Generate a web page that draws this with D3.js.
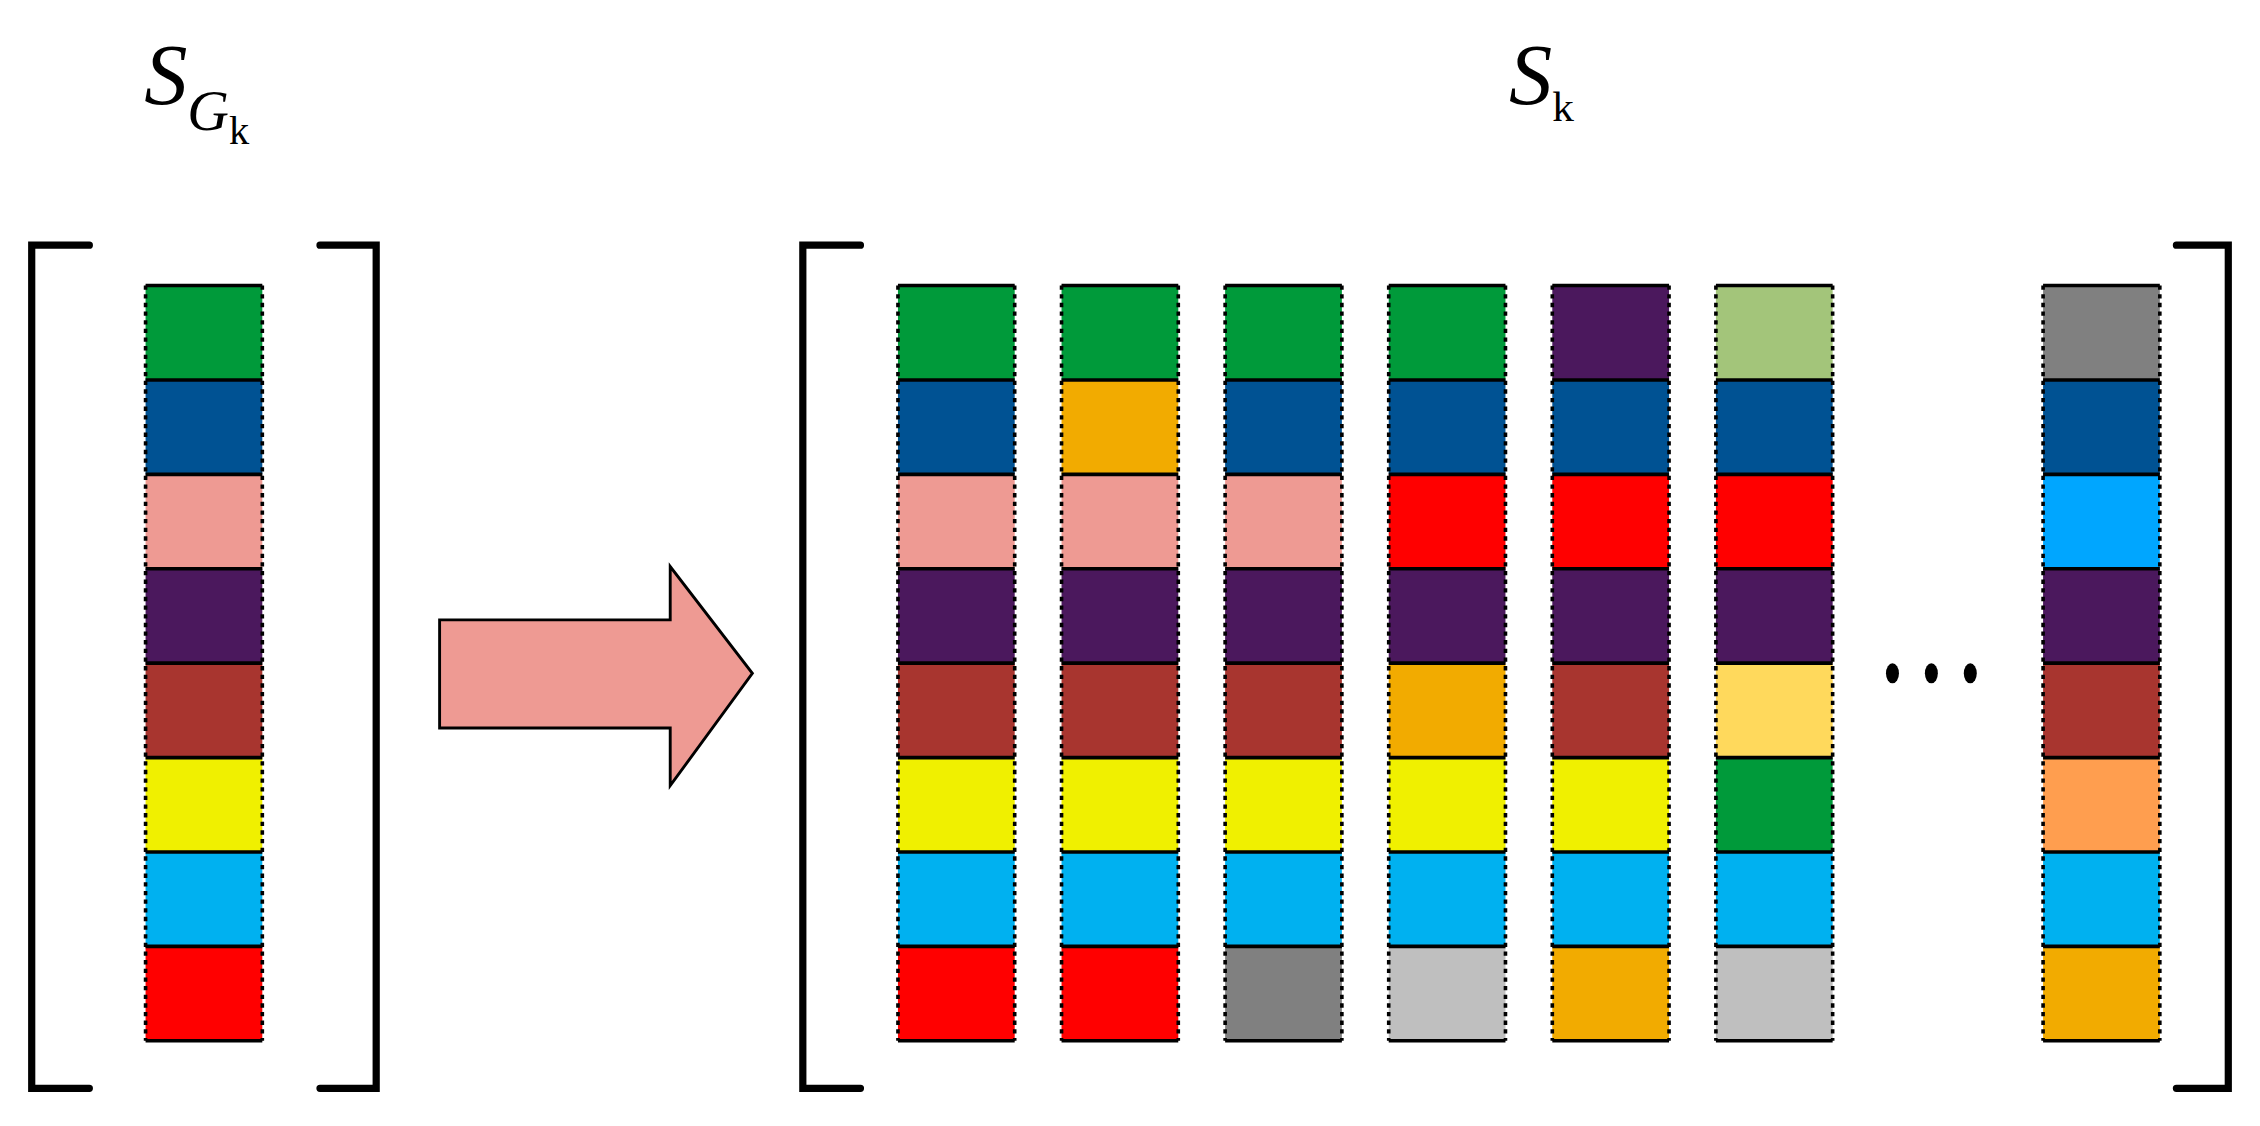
<!DOCTYPE html>
<html><head><meta charset="utf-8">
<script src="https://cdn.jsdelivr.net/npm/d3@7"></script>
<style>body{margin:0;background:#fff}</style>
</head><body>
<svg width="2260" height="1126" viewBox="0 0 1568 781"></svg>
<script>
const palette = {
  green: "#009a3a", blue: "#005293", pink: "#ee9a93", purple: "#4b185d",
  brown: "#a8352f", yellow: "#f0f000", cyan: "#00b1f0", red: "#ff0000",
  orange: "#f2ab00", gray: "#808080", lightgray: "#bfbfbf", lightgreen: "#a3c57a",
  lightyellow: "#ffd95c", lightorange: "#ff9e4f", lightblue: "#00a6ff"
};
const groupColumn = ["green", "blue", "pink", "purple", "brown", "yellow", "cyan", "red"];
const kColumns = [
  ["green", "blue", "pink", "purple", "brown", "yellow", "cyan", "red"],
  ["green", "orange", "pink", "purple", "brown", "yellow", "cyan", "red"],
  ["green", "blue", "pink", "purple", "brown", "yellow", "cyan", "gray"],
  ["green", "blue", "red", "purple", "orange", "yellow", "cyan", "lightgray"],
  ["purple", "blue", "red", "purple", "brown", "yellow", "cyan", "orange"],
  ["lightgreen", "blue", "red", "purple", "lightyellow", "green", "cyan", "lightgray"],
  ["gray", "blue", "lightblue", "purple", "brown", "lightorange", "cyan", "orange"]
];
const kSlots = [0, 1, 2, 3, 4, 5, 7]; // slot 6 is the ellipsis

const svg = d3.select("svg");
const colW = 81;
const y = d3.scaleBand().domain(d3.range(8)).range([198, 722]).padding(0);
const xk = d3.scaleLinear().domain([0, 1]).range([623, 736.5]);

function drawColumn(x0, cols) {
  const g = svg.append("g").attr("transform", `translate(${x0},0)`);
  g.selectAll("rect").data(cols).enter().append("rect")
    .attr("x", 0).attr("y", (d, i) => y(i))
    .attr("width", colW).attr("height", y.bandwidth())
    .attr("fill", d => palette[d]);
  // dotted sides
  [0, colW].forEach(sx => g.append("line")
    .attr("x1", sx).attr("x2", sx).attr("y1", y(0)).attr("y2", y(7) + y.bandwidth())
    .attr("stroke", "#000").attr("stroke-width", 2.5).attr("stroke-dasharray", "3,3"));
  // solid separators
  g.selectAll("line.sep").data(d3.range(9)).enter().append("line")
    .attr("class", "sep")
    .attr("x1", 0).attr("x2", colW)
    .attr("y1", i => i < 8 ? y(i) : y(7) + y.bandwidth())
    .attr("y2", i => i < 8 ? y(i) : y(7) + y.bandwidth())
    .attr("stroke", "#000").attr("stroke-width", 2.5);
}

drawColumn(101, groupColumn);
kColumns.forEach((c, i) => drawColumn(xk(kSlots[i]), c));

// brackets
function bracket(xv, xs, top, bot) {
  svg.append("path")
    .attr("d", `M${xs},${top} L${xv},${top} L${xv},${bot} L${xs},${bot}`)
    .attr("fill", "none").attr("stroke", "#000").attr("stroke-width", 5)
    .attr("stroke-linecap", "round");
}
bracket(22, 62, 170, 755);
bracket(261, 222, 170, 755);
bracket(557, 597, 170, 755);
bracket(1546, 1510, 170, 755);

// arrow
svg.append("path")
  .attr("d", "M305,430 L465,430 L465,393 L522,467 L465,545 L465,505 L305,505 Z")
  .attr("fill", palette.pink).attr("stroke", "#000").attr("stroke-width", 2);

// ellipsis
svg.selectAll("ellipse").data([0, 1, 2]).enter().append("ellipse")
  .attr("cx", d => 1313 + d * 27).attr("cy", 467).attr("rx", 4.5).attr("ry", 7)
  .attr("fill", "#000");

// labels
const f = "'Liberation Serif', 'DejaVu Serif', serif";
const t1 = svg.append("text").attr("x", 100).attr("y", 72).attr("font-family", f).attr("font-size", 60);
t1.append("tspan").attr("font-style", "italic").text("S");
t1.append("tspan").attr("font-style", "italic").attr("font-size", 40).attr("dy", 18).text("G");
t1.append("tspan").attr("font-size", 28).attr("dy", 10).text("k");
const t2 = svg.append("text").attr("x", 1047).attr("y", 72).attr("font-family", f).attr("font-size", 60);
t2.append("tspan").attr("font-style", "italic").text("S");
t2.append("tspan").attr("font-size", 30).attr("dy", 12).text("k");
</script>
</body></html>
